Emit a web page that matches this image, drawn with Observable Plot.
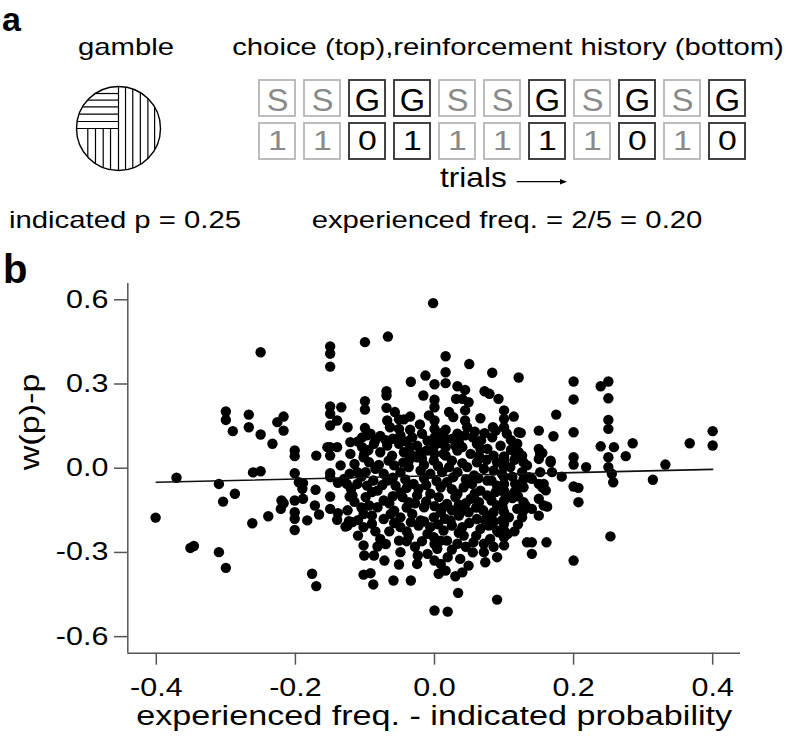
<!DOCTYPE html>
<html>
<head>
<meta charset="utf-8">
<script src="https://cdn.jsdelivr.net/npm/d3@7"></script>
<script src="https://cdn.jsdelivr.net/npm/@observablehq/plot@0.6"></script>
<style>
  html, body { margin: 0; padding: 0; background: #fff; }
  #root { position: relative; width: 788px; height: 742px; overflow: hidden; background: #fff;
          font-family: "Liberation Sans", Arial, Helvetica, sans-serif; color: #000; }
  .lbl { position: absolute; white-space: nowrap; line-height: 1; }
</style>
</head>
<body>
<div id="root"></div>
<script>
// ---------------- Panel a data ----------------
const trialNums = [1, 2, 3, 4, 5, 6, 7, 8, 9, 10, 11];
const choices   = ["S", "S", "G", "G", "S", "S", "G", "S", "G", "S", "G"];
const rewards   = [1, 1, 0, 1, 1, 1, 1, 1, 0, 1, 0];
const rowNames  = ["choice", "reinforcement"];
// hatch line offsets (fraction of the gamble-circle radius)
const hatchRight     = [0.167, 0.34, 0.52, 0.70, 0.86];
const hatchUpperLeft = [0.167, 0.343, 0.517, 0.676, 0.833];
const hatchLowerLeft = [0.19, 0.364, 0.548, 0.731];

// ---------------- Panel b data: [experienced freq - indicated p, w(p)-p] ----------------
const ptsLeft = [
[-0.401,-0.176],[-0.371,-0.034],[-0.351,-0.284],[-0.346,-0.277],[-0.310,-0.299],[-0.300,-0.355],[-0.310,-0.056],
[-0.304,-0.119],[-0.287,-0.091],[-0.262,-0.196],[-0.261,-0.015],[-0.250,-0.011],[-0.239,-0.171],[-0.250,0.413],
[-0.300,0.202],[-0.300,0.172],[-0.290,0.132],[-0.267,0.191],[-0.267,0.146],[-0.250,0.120],[-0.233,0.087],
[-0.226,0.164],[-0.217,0.184],[-0.217,0.134],[-0.201,0.063],[-0.201,0.043],[-0.170,0.045],[-0.220,-0.115],
[-0.217,-0.125],[-0.221,-0.145],[-0.201,-0.018],[-0.201,-0.115],[-0.201,-0.157],[-0.201,-0.180],[-0.201,-0.220],
[-0.195,-0.050],[-0.189,-0.053],[-0.190,-0.073],[-0.189,-0.109],[-0.183,-0.186],[-0.176,-0.376],[-0.170,-0.420],
[-0.171,-0.077],[-0.172,-0.133],[-0.166,-0.165]
];
const ptsColMinus15 = [
[-0.150,0.434],[-0.150,0.408],[-0.150,0.362],[-0.150,0.220],[-0.150,0.194],[-0.150,0.152],[-0.150,0.075],
[-0.150,0.045],[-0.150,-0.018],[-0.150,-0.032],[-0.150,-0.101],[-0.150,-0.145],[-0.134,0.217],[-0.140,0.170],
[-0.125,0.146],[-0.140,0.075],[-0.154,0.075],[-0.121,0.093],[-0.139,-0.052],[-0.139,-0.160],[-0.140,-0.184],
[-0.128,-0.208],[-0.122,-0.101],[-0.122,-0.020],[-0.123,-0.189],[-0.125,-0.204],[-0.118,-0.192]
];
const ptsTop = [
[-0.002,0.588],[-0.100,0.449],[-0.067,0.469],[0.016,0.399],[0.050,0.371],[0.016,0.342],[0.083,0.340],[0.121,0.323],
[-0.013,0.330],[-0.034,0.308],[0.000,0.299],[0.016,0.303],[0.033,0.292],[0.044,0.279],[-0.069,0.274],[-0.069,0.259],
[-0.016,0.259],[0.072,0.274],[0.079,0.265],[0.092,0.247],[0.031,0.247],[0.040,0.247],[0.049,0.235],[0.000,0.244],
[-0.100,0.239],[-0.100,0.209],[-0.069,0.215],[-0.057,0.200],[-0.035,0.184],[-0.051,0.174],[-0.044,0.174],
[-0.008,0.188],[0.000,0.217],[0.021,0.200],[0.027,0.182],[0.044,0.206],[0.066,0.178],[0.100,0.206],[0.100,0.176],
[0.114,0.184]
];
const ptsUpperCore = [
[-0.100,0.143],[-0.097,0.117],[-0.068,0.170],[-0.064,0.146],[-0.078,0.115],[-0.051,0.140],[-0.049,0.117],
[-0.035,0.137],[-0.032,0.110],[-0.021,0.156],[-0.018,0.123],[0.000,0.170],[0.000,0.140],[0.000,0.110],[0.000,0.081],
[0.000,0.051],[0.016,0.137],[0.016,0.105],[0.016,0.075],[0.016,0.045],[0.033,0.123],[0.035,0.093],[0.044,0.170],
[0.047,0.146],[0.044,0.117],[0.040,0.075],[0.052,0.051],[0.067,0.099],[0.066,0.069],[0.084,0.146],[0.088,0.134],
[0.083,0.110],[0.100,0.146],[0.104,0.123],[0.121,0.128],[0.119,0.087],[0.121,0.057],[0.126,0.045],[0.100,0.042],
[-0.104,0.110],[-0.092,0.123],[-0.104,0.075],[-0.101,0.051],[-0.087,0.087],[-0.078,0.057],[-0.068,0.081],
[-0.051,0.087],[-0.044,0.057],[-0.035,0.075],[-0.032,0.045],[-0.020,0.057],[-0.018,0.034],[-0.061,0.045],
[0.061,0.087],[0.076,0.069],[0.085,0.045],[0.064,0.045],
[-0.110,0.095],[-0.085,0.100],[-0.060,0.105],[-0.040,0.095],[-0.010,0.098],[0.008,0.090],[0.026,0.105],
[0.055,0.110],[0.072,0.125],[0.110,0.100],
[-0.095,0.065],[-0.070,0.100],[-0.025,0.080],[0.008,0.125],[0.030,0.080],[0.058,0.130],[0.095,0.080],[0.110,0.065]
];
const ptsRight = [
[0.200,0.309],[0.200,0.245],[0.200,0.128],[0.200,0.039],[0.239,0.292],[0.250,0.309],[0.250,0.249],[0.250,0.172],
[0.250,0.140],[0.239,0.078],[0.258,0.075],[0.250,0.039],[0.275,0.043],[0.285,0.089],[0.367,0.089],[0.400,0.132],
[0.400,0.081],[0.175,0.191],[0.171,0.114],[0.150,0.134],[0.124,0.126],[0.116,0.057],[0.150,0.069],[0.155,0.054],
[0.167,0.027],[0.152,0.051],[0.150,0.033],[0.167,0.021],[0.200,0.013],[0.218,0.004],[0.250,0.004],[0.255,-0.020],
[0.257,-0.050],[0.332,0.013],[0.314,-0.041],[0.253,-0.243],[0.200,-0.065],[0.207,-0.070],[0.207,-0.121],
[0.200,-0.329],[0.183,-0.030],[0.169,-0.014],[0.152,-0.014],[0.140,-0.038],[0.150,-0.056],[0.157,-0.056],
[0.160,-0.079],[0.155,-0.068],[0.150,-0.109],[0.157,-0.133],[0.162,-0.137],[0.131,-0.133],[0.128,-0.151],
[0.140,-0.145],[0.150,-0.169],[0.126,-0.175],[0.133,-0.264],[0.140,-0.264],[0.161,-0.264],[0.140,-0.305],
[0.133,0.010],[0.119,-0.070],[0.107,-0.098],[0.112,-0.106],[0.107,-0.175],[0.100,-0.157],[0.100,-0.198],
[0.100,-0.222],[0.100,-0.246],[0.100,-0.275],[0.100,0.027],[0.100,0.004],[0.100,-0.032],[0.100,-0.056],
[0.100,-0.079],[0.100,-0.115]
];
const ptsLower = [
[0.000,-0.507],[0.019,-0.511],[0.034,-0.444],[0.090,-0.468],[-0.088,-0.414],[-0.059,-0.400],[-0.034,-0.400],
[-0.102,-0.379],[-0.092,-0.374],[-0.072,-0.329],[-0.051,-0.343],[-0.025,-0.341],[0.000,-0.329],[0.009,-0.341],
[0.016,-0.365],[0.030,-0.385],[0.040,-0.371],[0.049,-0.347],[0.006,-0.376],[0.019,-0.317],[0.037,-0.323],
[0.071,-0.299],[0.073,-0.335],[0.090,-0.317],[-0.101,-0.311],[-0.087,-0.311],[-0.049,-0.299],[-0.024,-0.311],
[-0.010,-0.305],[0.004,-0.287],[-0.102,-0.275],[-0.082,-0.279],[-0.078,-0.252],[-0.051,-0.258],[-0.037,-0.243],
[-0.010,-0.234],[-0.001,-0.246],[0.009,-0.258],[0.018,-0.258],[0.033,-0.269],[0.042,-0.240],[0.056,-0.264],
[0.071,-0.269],[0.080,-0.252],[0.092,-0.228],
[-0.070,-0.270],[-0.028,-0.280],[0.025,-0.290],[0.055,-0.300],[0.085,-0.280],[-0.040,-0.260],[0.000,-0.270],
[0.045,-0.280]
];
const ptsCore = [
[-0.121,0.051],[-0.102,0.039],[-0.094,0.021],[-0.066,0.027],[-0.037,0.027],[-0.025,0.039],[-0.011,0.063],
[-0.001,0.027],[0.013,0.051],[0.025,0.027],[0.033,0.063],[0.061,0.021],[0.090,0.021],[0.128,0.021],
[-0.115,0.015],[-0.080,0.012],[-0.045,0.020],[-0.015,0.012],[0.005,0.008],[0.040,0.018],[0.075,0.030],
[0.115,0.030],[-0.135,0.010],
[-0.111,-0.014],[-0.099,-0.014],[-0.085,-0.002],[-0.073,-0.020],[-0.058,0.010],[-0.049,-0.014],[-0.037,0.004],
[-0.020,-0.008],[-0.006,-0.020],[0.011,-0.014],[0.021,0.004],[0.033,-0.014],[0.047,0.004],[0.057,-0.026],
[0.071,-0.002],[0.085,-0.008],[0.097,-0.020],[0.109,0.004],[0.126,-0.014],[0.136,-0.032],
[-0.130,-0.038],[-0.105,-0.030],[-0.088,-0.044],[-0.060,-0.034],[-0.042,-0.040],[-0.015,-0.036],[0.003,-0.046],
[0.027,-0.032],[0.045,-0.040],[0.063,-0.036],[0.082,-0.044],[0.112,-0.030],[0.128,-0.040],
[-0.126,-0.056],[-0.111,-0.056],[-0.097,-0.062],[-0.082,-0.080],[-0.068,-0.044],[-0.056,-0.062],[-0.049,-0.086],
[-0.030,-0.056],[-0.023,-0.074],[-0.006,-0.091],[0.009,-0.068],[0.018,-0.050],[0.033,-0.091],[0.042,-0.068],
[0.054,-0.056],[0.066,-0.080],[0.076,-0.044],[0.090,-0.062],[0.100,-0.086],[0.116,-0.056],[0.128,-0.068],
[-0.120,-0.075],[-0.075,-0.060],[-0.040,-0.070],[-0.012,-0.060],[0.025,-0.075],[0.058,-0.090],[0.088,-0.085],
[0.120,-0.100],
[-0.118,-0.097],[-0.099,-0.103],[-0.094,-0.133],[-0.082,-0.139],[-0.073,-0.115],[-0.058,-0.151],[-0.046,-0.103],
[-0.037,-0.121],[-0.025,-0.097],[-0.015,-0.139],[0.006,-0.103],[0.018,-0.127],[0.030,-0.103],[0.040,-0.151],
[0.052,-0.109],[0.064,-0.121],[0.076,-0.097],[0.090,-0.133],[0.119,-0.145],[0.128,-0.121],
[-0.115,-0.120],[-0.090,-0.085],[-0.065,-0.125],[-0.040,-0.140],[-0.012,-0.118],[0.012,-0.140],[0.035,-0.130],
[0.060,-0.140],[0.082,-0.115],[0.115,-0.085],
[-0.105,-0.140],[-0.060,-0.100],[-0.028,-0.125],[0.000,-0.135],[0.025,-0.150],[0.045,-0.125],[0.070,-0.150],
[0.098,-0.140],[-0.125,-0.150],
[-0.102,-0.163],[-0.090,-0.169],[-0.073,-0.181],[-0.063,-0.163],[-0.049,-0.175],[-0.032,-0.163],[-0.020,-0.186],
[-0.001,-0.175],[0.009,-0.157],[0.023,-0.186],[0.035,-0.169],[0.049,-0.157],[0.061,-0.181],[0.076,-0.169],
[0.085,-0.157],[0.097,-0.186],[-0.110,-0.185],
[-0.102,-0.210],[-0.090,-0.198],[-0.049,-0.210],[-0.034,-0.192],[-0.023,-0.204],[-0.006,-0.210],[0.013,-0.222],
[0.025,-0.204],[0.040,-0.210],[0.066,-0.216],[0.078,-0.204],[0.090,-0.222],
[-0.085,-0.225],[-0.058,-0.195],[-0.015,-0.190],[0.015,-0.180],[0.035,-0.230],[0.072,-0.185],[0.105,-0.235],
[0.120,-0.200],
[-0.110,-0.240],[-0.065,-0.225],[-0.040,-0.225],[-0.018,-0.260],[0.005,-0.200],[0.050,-0.195],[0.060,-0.240],
[0.085,-0.190],[0.115,-0.225]
];
// fitted regression line end points
const regX = [-0.4, 0.4];
const regY = [-0.050, -0.004];
const xTicks = [-0.4, -0.2, 0.0, 0.2, 0.4];
const yTicks = [-0.6, -0.3, 0.0, 0.3, 0.6];
const xDomain = [-0.441, 0.44];
const yDomain = [-0.659, 0.658];

// ---------------- helpers ----------------
const FONT = "'Liberation Sans', Arial, Helvetica, sans-serif";
const root = document.getElementById("root");

function stretchText(el, s) {
  const prev = el.getAttribute("transform") || "";
  const xa = el.getAttribute("x");
  let x = parseFloat(xa);
  if (!isFinite(x) || /em/.test(xa || "")) x = 0;
  el.setAttribute("transform", `${prev} translate(${x},0) scale(${s},1) translate(${-x},0)`);
}
// lineHeight lh: baseline sits at top + (lh/2 - 1.117/2 + 0.905) em for Liberation Sans
function addLabel(text, {cx, left, baseline, size, stretch = 1, bold = false, lh = 1}) {
  const d = document.createElement("div");
  d.className = "lbl";
  d.textContent = text;
  d.style.fontSize = size + "px";
  d.style.lineHeight = String(lh);
  if (bold) d.style.fontWeight = "bold";
  const off = (lh / 2 - 0.5585 + 0.905) * size;
  d.style.top = (baseline - off) + "px";
  if (cx !== undefined) {
    d.style.left = cx + "px";
    d.style.transformOrigin = "center";
    d.style.transform = `translateX(-50%) scaleX(${stretch})`;
  } else {
    d.style.left = left + "px";
    d.style.transformOrigin = "left";
    d.style.transform = `scaleX(${stretch})`;
  }
  root.appendChild(d);
}
function place(svg, left, top) {
  svg.style.position = "absolute";
  svg.style.left = left + "px";
  svg.style.top = top + "px";
  root.appendChild(svg);
}

// ---------------- Panel a ----------------
addLabel("a", {left: 2, baseline: 31, size: 34, bold: true});
addLabel("gamble", {cx: 126, baseline: 55, size: 24, stretch: 1.22});
addLabel("choice (top),reinforcement history (bottom)", {cx: 507.5, baseline: 55, size: 24, stretch: 1.22});
addLabel("indicated p = 0.25", {cx: 125, baseline: 228, size: 24, stretch: 1.22});
addLabel("experienced freq. = 2/5 = 0.20", {cx: 506.5, baseline: 228, size: 24, stretch: 1.22});
addLabel("trials", {left: 440, baseline: 188, size: 28, stretch: 1.13});

// arrow after "trials"
const arrowSvg = document.createElementNS("http://www.w3.org/2000/svg", "svg");
arrowSvg.setAttribute("width", 64); arrowSvg.setAttribute("height", 20);
arrowSvg.innerHTML = '<line x1="6.7" y1="9.7" x2="51" y2="9.7" stroke="#000" stroke-width="1.3"/><path d="M50,7 L57,9.7 L50,12.4 Z" fill="#000"/>';
place(arrowSvg, 510, 172);

// gamble pie (hatched circle)
const segs = [];
hatchRight.forEach(o => { const h = Math.sqrt(1 - o * o); segs.push({x1: o, y1: -h, x2: o, y2: h}); });
hatchUpperLeft.forEach(o => { const h = Math.sqrt(1 - o * o); segs.push({x1: -h, y1: o, x2: 0, y2: o}); });
hatchLowerLeft.forEach(o => { const h = Math.sqrt(1 - o * o); segs.push({x1: -o, y1: 0, x2: -o, y2: -h}); });
segs.push({x1: 0, y1: -1, x2: 0, y2: 1});
segs.push({x1: -1, y1: 0, x2: 0, y2: 0});

const gamble = Plot.plot({
  width: 100, height: 100, margin: 0,
  x: {domain: [-1.1905, 1.1905], axis: null},
  y: {domain: [-1.1905, 1.1905], axis: null},
  style: {background: "transparent", overflow: "visible"},
  marks: [
    Plot.link(segs, {x1: "x1", y1: "y1", x2: "x2", y2: "y2", stroke: "#000", strokeWidth: 1.2}),
    Plot.dot([{x: 0, y: 0}], {x: "x", y: "y", r: 42, stroke: "#000", strokeWidth: 1.4, fill: "none"})
  ]
});
place(gamble, 68, 77.5);

// choice / reinforcement boxes
const cells = [];
trialNums.forEach((t, i) => {
  const g = choices[i] === "G";
  cells.push({trial: t, row: rowNames[0], label: choices[i], gamble: g});
  cells.push({trial: t, row: rowNames[1], label: String(rewards[i]), gamble: g});
});
const boxes = Plot.plot({
  width: 788, height: 240, margin: 0,
  x: {type: "band", domain: trialNums, range: [249.3, 755.3], paddingInner: 0.2, paddingOuter: 0.1, axis: null},
  y: {type: "band", domain: rowNames, range: [75.65, 163.05], paddingInner: 0.153, paddingOuter: 0.0765, axis: null},
  color: {type: "identity"},
  style: {background: "transparent", fontFamily: FONT, overflow: "visible"},
  marks: [
    Plot.cell(cells, {x: "trial", y: "row", fill: "white",
      stroke: d => d.gamble ? "#2e2e2e" : "#b5b5b5", strokeWidth: 1.8}),
    Plot.text(cells.filter(d => d.row === rowNames[0]), {x: "trial", y: "row", text: "label", dy: 2.5,
      fontSize: 31, fill: d => d.gamble ? "#000" : "#8a8a8a"}),
    Plot.text(cells.filter(d => d.row === rowNames[1]), {x: "trial", y: "row", text: "label", dy: 0,
      fontSize: 27, fill: d => d.gamble ? "#000" : "#8a8a8a"})
  ]
});
{
  const groups = boxes.querySelectorAll('g[aria-label="text"]');
  if (groups[0]) groups[0].querySelectorAll("text").forEach(t => stretchText(t, 1.05));
  if (groups[1]) groups[1].querySelectorAll("text").forEach(t => stretchText(t, 1.25));
}
place(boxes, 0, 0);

// ---------------- Panel b ----------------
addLabel("b", {left: 3, baseline: 283, size: 40, bold: true, lh: 0.6});

const allPts = [...ptsLeft, ...ptsColMinus15, ...ptsTop, ...ptsUpperCore, ...ptsRight, ...ptsLower, ...ptsCore]
  .map(([x, y]) => ({x, y}));
const reg = regX.map((x, i) => ({x, y: regY[i]}));
const fmt = d => d.toFixed(1);

const scatter = Plot.plot({
  width: 788, height: 492,
  marginLeft: 127.3, marginRight: 48, marginTop: 33, marginBottom: 89.3,
  x: {domain: xDomain},
  y: {domain: yDomain},
  style: {background: "transparent", fontFamily: FONT, color: "#000", overflow: "visible"},
  marks: [
    Plot.axisX({ticks: xTicks, tickFormat: fmt, tickSize: 12, tickPadding: 13.5, fontSize: 25,
      stroke: "#555", strokeWidth: 1.5, fill: "#000", label: null}),
    Plot.axisY({ticks: yTicks, tickFormat: fmt, tickSize: 13.4, tickPadding: 6, fontSize: 25,
      stroke: "#555", strokeWidth: 1.5, fill: "#000", label: null}),
    Plot.ruleX([xDomain[0]], {stroke: "#555", strokeWidth: 1.5}),
    Plot.ruleY([yDomain[0]], {stroke: "#555", strokeWidth: 1.5}),
    Plot.dot(allPts, {x: "x", y: "y", r: 5.2, fill: "#000", stroke: "none"}),
    Plot.line(reg, {x: "x", y: "y", stroke: "#111", strokeWidth: 1.6}),
    Plot.text(["experienced freq. - indicated probability"], {frameAnchor: "bottom", lineAnchor: "middle",
      dy: 63.3, fontSize: 28, fill: "#000"}),
    Plot.text(["w(p)-p"], {frameAnchor: "left", lineAnchor: "middle", rotate: -90,
      dx: -97.3, dy: 2, fontSize: 28, fill: "#000"})
  ]
});
scatter.querySelectorAll("text").forEach(t => stretchText(t, 1.22));
place(scatter, 0, 250);
</script>
</body>
</html>
